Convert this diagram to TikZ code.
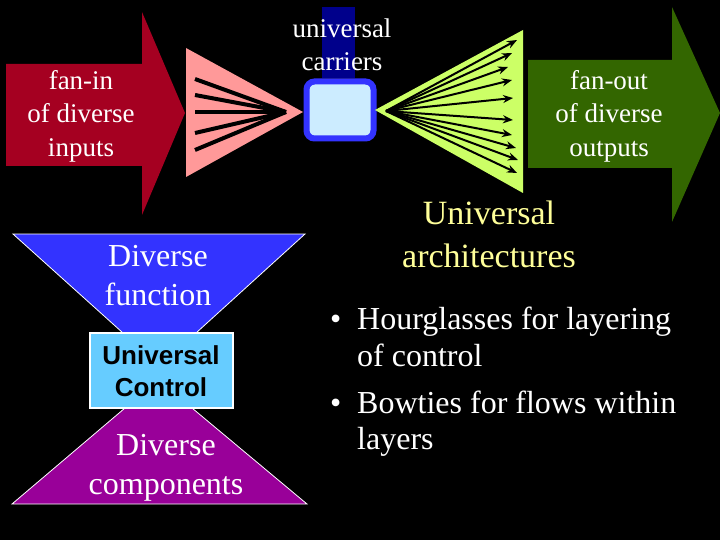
\documentclass[tikz,border=0pt]{standalone}
\usepackage{fontspec}
\setmainfont{Liberation Serif}
\newfontfamily\ctrlfont{Liberation Sans}
\usetikzlibrary{arrows.meta}
\definecolor{faninred}{RGB}{165,0,33}
\definecolor{faninpink}{RGB}{255,153,153}
\definecolor{carriernavy}{RGB}{0,0,139}
\definecolor{carrierblue}{RGB}{51,51,255}
\definecolor{carrierfill}{RGB}{204,236,255}
\definecolor{fanoutlime}{RGB}{204,255,102}
\definecolor{fanoutgreen}{RGB}{51,102,0}
\definecolor{funcblue}{RGB}{51,51,255}
\definecolor{ctrlfill}{RGB}{102,204,255}
\definecolor{comppurple}{RGB}{153,0,153}
\definecolor{archyellow}{RGB}{255,255,153}
\tikzset{
	slidetext/.style={text=white, align=center, inner sep=0pt, font=\fontsize{27}{33.5}\selectfont},
	bigtext/.style={slidetext, font=\fontsize{32}{39}\selectfont},
	archtext/.style={text=archyellow, align=center, inner sep=0pt, font=\fontsize{34}{43}\selectfont},
	itemtext/.style={text=white, anchor=base west, inner sep=0pt, font=\fontsize{32}{37}\selectfont},
	ctrltext/.style={text=black, align=center, inner sep=0pt, font=\ctrlfont\bfseries\fontsize{26}{32}\selectfont},
	fanline/.style={line width=4pt, color=black},
	fanarrow/.style={-{Stealth[length=10pt,width=8pt]}, line width=2pt, color=black}
}
\begin{document}
\begin{tikzpicture}[x=1pt,y=-1pt]
	\fill[black] (0,0) rectangle (720,540);
	\useasboundingbox (0,0) rectangle (720,540);
	
	%%%% fan-in
	\fill[faninred] (6,64) -- (142,64) -- (142,12) -- (185,113) -- (142,215) -- (142,166) -- (6,166) -- cycle;
	\node[slidetext] (fanin) at (81,116) {fan-in\\of diverse\\inputs};
	\fill[faninpink] (186,48) -- (303,112) -- (186,177) -- cycle;
	\coordinate (inpoint) at (286,112);
	\foreach \y in {79,95,112,133,150}{
		\coordinate (in\y) at (195,\y);
		\draw[fanline] (in\y) -- (inpoint);
	}
	
	%%%% universal carriers
	\fill[carriernavy] (322,7) rectangle (355,78);
	\node[slidetext] (carriers) at (342,45) {universal\\carriers};
	\node[draw=carrierblue, line width=6pt, fill=carrierfill, rounded corners=8pt,
		minimum width=67pt, minimum height=57pt, inner sep=0pt] (carrier) at (340,110) {};
	
	%%%% fan-out
	\fill[fanoutlime] (375,110) -- (523,30) -- (523,193) -- cycle;
	\coordinate (outpoint) at (386,111);
	\foreach \x/\y [count=\i] in {517/40,512/53,508/67,512/80,513/98,513/120,512/135,516/148,518/160,517/173}{
		\coordinate (out\i) at (\x,\y);
		\draw[fanarrow] (outpoint) -- (out\i);
	}
	\fill[fanoutgreen] (528,60) -- (672,60) -- (672,7) -- (720,113) -- (672,222) -- (672,168) -- (528,168) -- cycle;
	\node[slidetext] (fanout) at (609,116) {fan-out\\of diverse\\outputs};
	
	%%%% hourglass
	\fill[funcblue, draw=white, line width=0.8pt] (13,234) -- (305,234) -- (196,333) -- (123,333) -- cycle;
	\fill[comppurple, draw=white, line width=0.8pt] (125,408) -- (192,408) -- (307,504) -- (12,504) -- cycle;
	\node[draw=white, line width=2pt, fill=ctrlfill, minimum width=143pt, minimum height=75pt,
		inner sep=0pt] (ctrlbox) at (161,370) {};
	\node[ctrltext] (ctrl) at (161,371) {Universal\\Control};
	\node[bigtext] (func) at (158,276) {Diverse\\function};
	\node[bigtext] (comp) at (166,468) {Diverse\\components};
	
	%%%% architectures
	\node[archtext] (arch) at (489,234) {Universal\\architectures};
	\node[itemtext] (b1) at (330,329) {\textbullet};
	\node[itemtext] (item1a) at (357,329) {Hourglasses for layering};
	\node[itemtext] (item1b) at (357,366) {of control};
	\node[itemtext] (b2) at (330,413) {\textbullet};
	\node[itemtext] (item2a) at (357,413) {Bowties for flows within};
	\node[itemtext] (item2b) at (357,449) {layers};
\end{tikzpicture}
\end{document}
